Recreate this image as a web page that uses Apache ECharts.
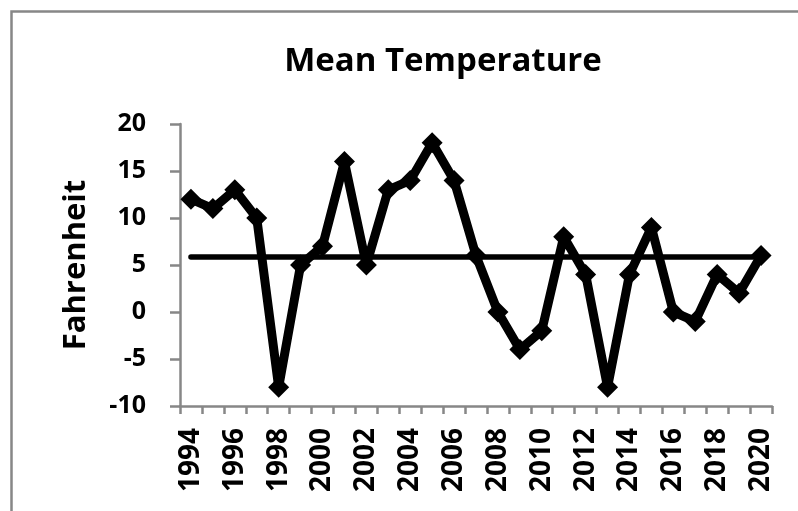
<!DOCTYPE html>
<html>
<head>
<meta charset="utf-8">
<script src="https://cdn.jsdelivr.net/npm/echarts@6/dist/echarts.min.js"></script>
<style>
html,body{margin:0;padding:0;background:#fff;}
#chart{width:798px;height:511px;}
</style>
</head>
<body>
<div id="chart"></div>
<script>
const years = ['1994','1995','1996','1997','1998','1999','2000','2001','2002','2003','2004','2005','2006','2007','2008','2009','2010','2011','2012','2013','2014','2015','2016','2017','2018','2019','2020'];
const meanTemperature = [12,11,13,10,-8,5,7,16,5,13,14,18,14,6,0,-4,-2,8,4,-8,4,9,0,-1,4,2,6];
const overallMean = 5.85;
const yTicks = [-10,-5,0,5,10,15,20];

const chart = echarts.init(document.getElementById('chart'), null, {renderer:'canvas'});
const axisGray = '#878787';
chart.setOption({
  animation:false,
  backgroundColor:'#ffffff',
  graphic:[{
    type:'rect', left:9, top:9, silent:true,
    shape:{x:0,y:0,width:1000,height:700},
    style:{fill:'none', stroke:axisGray, lineWidth:2.5}
  }],
  title:{
    text:'Mean Temperature',
    left:438, top:40, textAlign:'center',
    textStyle:{fontFamily:'Open Sans', fontWeight:'bold', fontSize:33, color:'#000'}
  },
  grid:{left:180, right:26, top:124, bottom:105, containLabel:false},
  xAxis:{
    type:'category', data:years, boundaryGap:true,
    axisLine:{onZero:false, lineStyle:{color:axisGray, width:2.5}},
    axisTick:{show:true, alignWithLabel:false, interval:0, length:8, lineStyle:{color:axisGray, width:2.5}},
    axisLabel:{interval:1, rotate:90, margin:22, color:'#000', fontFamily:'Open Sans', fontWeight:'bold', fontSize:28}
  },
  yAxis:{
    type:'value', min:yTicks[0], max:yTicks[yTicks.length-1], interval:5,
    name:'Fahrenheit', nameLocation:'middle', nameGap:88, nameRotate:90,
    nameTextStyle:{fontFamily:'Open Sans', fontWeight:'bold', fontSize:31, color:'#000'},
    splitLine:{show:false},
    axisLine:{show:true, lineStyle:{color:axisGray, width:2.5}},
    axisTick:{show:true, length:10, lineStyle:{color:axisGray, width:2.5}},
    axisLabel:{margin:34, color:'#000', fontFamily:'Open Sans', fontWeight:'bold', fontSize:25}
  },
  series:[{
    type:'line', data:meanTemperature,
    symbol:'diamond', symbolSize:21, showAllSymbol:true,
    itemStyle:{color:'#000'},
    lineStyle:{color:'#000', width:9, join:'round'},
    z:3,
    markLine:{
      silent:true, symbol:['none','none'],
      label:{show:false},
      lineStyle:{color:'#000', width:5.5, type:'solid', cap:'round'},
      data:[[{coord:[years[0], overallMean]},{coord:[years[years.length-1], overallMean]}]]
    }
  }]
});
</script>
</body>
</html>
